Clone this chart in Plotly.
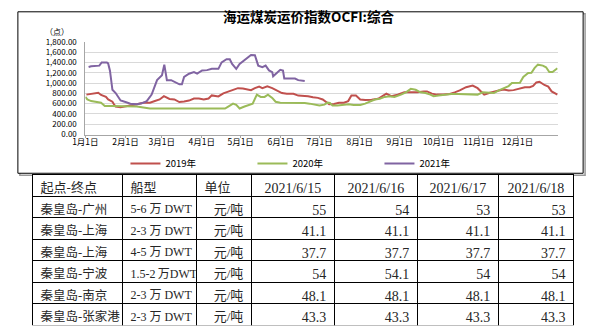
import plotly.graph_objects as go

W, H = 589, 331

# ---------------- data ----------------
month_days = [0, 31, 59, 90, 120, 151, 181, 212, 243, 273, 304, 334]
month_labels = ["1月1日", "2月1日", "3月1日", "4月1日", "5月1日", "6月1日",
                "7月1日", "8月1日", "9月1日", "10月1日", "11月1日", "12月1日"]
y_ticks = [0, 200, 400, 600, 800, 1000, 1200, 1400, 1600, 1800]

day_2019 = [0.8, 4.5, 8.3, 10, 12.1, 15.9, 17.6, 20.9, 22.1, 23.4, 27.2, 31, 34.8, 39.8,
            44.8, 49.9, 53.7, 57.4, 60.7, 63.7, 65, 68.8, 72.6, 76.3, 80.1, 83.9, 87.7,
            91.5, 95.2, 97.7, 100.3, 102.8, 106.6, 110.4, 114.1, 117.9, 121.7, 125.5,
            128, 131, 134.3, 136.8, 140.6, 144.4, 148.1, 151.9, 155.7, 160.8, 164.5,
            168.3, 172.1, 175.9, 179.7, 183.4, 185.9, 188.4, 192.2, 196, 199.8, 203.1,
            205.6, 209.1, 212.4, 216.2, 221.2, 226.2, 232.6, 236.4, 241.3, 246.4, 251.5,
            256.5, 261.5, 264, 267.8, 271.6, 276.6, 281.6, 285.4, 289.3, 294.2, 298,
            299.3, 303.1, 305.6, 308.2, 311.9, 315.7, 319.5, 323.3, 327.1, 330.9, 335.8,
            339.6, 343.4, 346, 348.5, 350.9, 354.7, 357.7, 360.3, 364.8]
val_2019 = [775, 794, 806, 810, 769, 731, 681, 637, 588, 544, 531, 545, 569, 588,
            619, 619, 650, 681, 744, 700, 690, 681, 631, 640, 660, 700, 700,
            681, 700, 760, 744, 740, 800, 837, 869, 900, 895, 869,
            860, 900, 931, 900, 935, 900, 856, 806, 794, 790, 756,
            756, 744, 725, 712, 681, 637, 588, 595, 619, 619, 650,
            756, 756, 681, 669, 675, 694, 794, 744, 775, 819, 819,
            819, 837, 837, 794, 775, 775, 787, 819, 856, 919, 944,
            950, 900, 837, 775, 806, 837, 856, 875, 856, 862, 900,
            919, 919, 944, 1012, 1025, 962, 931, 837, 775]

day_2020 = [0, 1.5, 4.5, 8.3, 12.1, 13.5, 15, 20, 27, 34.8, 39.8, 44.8, 49.9, 55, 70,
            90, 107.9, 110.4, 114.1, 116.6, 119.2, 123, 126.8, 129.3, 132.5, 135.5,
            138.5, 141.1, 144.4, 147, 150.6, 155, 160, 165.8, 169.5, 173.3, 177.1,
            180.9, 184.7, 187.2, 189, 191, 194.8, 199.8, 203.5, 207.3, 212.4, 216.2,
            220, 223.7, 227.5, 231.3, 235.1, 238.8, 243.9, 247.7, 251.5, 255.2, 259,
            262.8, 266.6, 269.1, 272.9, 277.9, 282.8, 288, 294.2, 299.3, 303.1, 306.9,
            311.9, 315.7, 319.5, 323.3, 327, 329.6, 335.8, 338.4, 342.2, 344.7, 347.2,
            349.7, 353.5, 356, 358.5, 361, 364.8]
val_2020 = [731, 681, 650, 637, 619, 590, 556, 556, 556, 550, 544, 525, 506, 506, 503,
            503, 506, 544, 600, 575, 506, 544, 575, 600, 775, 731,
            731, 775, 712, 637, 619, 619, 619, 619, 612, 600, 575,
            562, 581, 619, 612, 562, 562, 575, 587, 575, 575, 600,
            637, 681, 694, 731, 744, 731, 775, 819, 887, 869, 819,
            806, 775, 744, 756, 775, 787, 787, 787, 787, 775, 819,
            819, 806, 856, 900, 940, 1000, 1006, 1119, 1194, 1200, 1294,
            1356, 1337, 1306, 1212, 1212, 1287]

day_2021 = [2.5, 4.5, 10.8, 12.6, 16.6, 17.6, 19, 20.9, 23.4, 27.2, 31, 34.8, 39.8, 43.6,
            47.4, 51.2, 55.4, 59.2, 61, 63, 66.3, 70.1, 72.7, 74.6, 76.3, 80.1, 83.9,
            86.4, 90.2, 94, 97.7, 102.8, 105.3, 109.1, 111.6, 113.4, 116.6, 119.2, 123,
            125.5, 128, 131, 133.6, 136.8, 139.3, 141.9, 144.4, 145.1, 147.6, 150.6,
            152.7, 153.7, 158.2, 162, 164.5, 169.5]
val_2021 = [1310, 1325, 1337, 1400, 1400, 1380, 1240, 869, 806, 662, 631, 600, 588, 606,
            650, 775, 1056, 1150, 1356, 1056, 1056, 1006, 975, 975, 1119, 1181, 1212,
            1181, 1244, 1250, 1275, 1275, 1400, 1462, 1462, 1369, 1275, 1369, 1444,
            1494, 1544, 1540, 1337, 1306, 1337, 1244, 1212, 1131, 1181, 1256,
            1240, 1087, 1087, 1087, 1056, 1037]

table_header = ["起点-终点", "船型", "单位", "2021/6/15", "2021/6/16", "2021/6/17", "2021/6/18"]
routes = ["秦皇岛-广州", "秦皇岛-上海", "秦皇岛-上海", "秦皇岛-宁波", "秦皇岛-南京", "秦皇岛-张家港"]
ship_types = ["5-6 万 DWT", "2-3 万 DWT", "4-5 万 DWT", "1.5-2 万DWT", "2-3 万 DWT", "2-3 万 DWT"]
units = ["元/吨"] * 6
price_0615 = ["55", "41.1", "37.7", "54", "48.1", "43.3"]
price_0616 = ["54", "41.1", "37.7", "54.1", "48.1", "43.3"]
price_0617 = ["53", "41.1", "37.7", "54", "48.1", "43.3"]
price_0618 = ["53", "41.1", "37.7", "54", "48.1", "43.3"]

# ---------------- figure ----------------
def px_x(p):
    return p / W

def px_y(p):
    return 1 - p / H

fig = go.Figure()
series = [("2019年", day_2019, val_2019, "#C0504D"),
          ("2020年", day_2020, val_2020, "#9BBB59"),
          ("2021年", day_2021, val_2021, "#8064A2")]
for name, xs, ys, col in series:
    fig.add_trace(go.Scatter(x=xs, y=ys, mode="lines", name=name,
                             line=dict(color=col, width=2), hoverinfo="skip"))

tfont = "Liberation Serif, Noto Sans CJK SC"
ship_cells = [s.replace(" 万DWT", "\u2009万DWT").replace(" ", "\u00a0") for s in ship_types]
fig.add_trace(go.Table(
    domain=dict(x=[px_x(20), px_x(574)], y=[0, px_y(174)]),
    columnwidth=[92, 76, 56, 85, 85, 83, 77],
    header=dict(values=table_header, height=22,
                align=["left", "left", "left", "center", "center", "center", "center"],
                line=dict(color="black", width=1), fill=dict(color="white"),
                font=dict(family=tfont, size=[13, 13, 13, 14, 14, 14, 14], color="#262626")),
    cells=dict(values=[routes, ship_cells, units, price_0615, price_0616, price_0617, price_0618],
               height=21.5,
               align=["left", "left", "right", "right", "right", "right", "right"],
               line=dict(color="black", width=1), fill=dict(color="white"),
               font=dict(family=tfont, size=[12.5, 12, 13, 14, 14, 14, 14],
                         color="#262626")),
))

fig.update_layout(
    width=W, height=H,
    margin=dict(l=0, r=0, t=0, b=0),
    paper_bgcolor="white", plot_bgcolor="white",
    font=dict(family="Noto Sans CJK SC", color="#000000"),
    xaxis=dict(domain=[px_x(74), px_x(557)], range=[0, 365],
               tickmode="array", tickvals=month_days, ticktext=month_labels,
               showgrid=False, zeroline=False, showline=True, linecolor="#A6A6A6",
               linewidth=1, ticks="outside", ticklen=2, tickcolor="#A6A6A6",
               ticklabelstandoff=-3,
               tickfont=dict(size=8.5, color="#000000")),
    yaxis=dict(domain=[px_y(133), px_y(37)], range=[0, 1800],
               tickmode="array", tickvals=y_ticks, tickformat=",.2f",
               showgrid=True, gridcolor="#D9D9D9", gridwidth=1, zeroline=False,
               showline=True, linecolor="#A6A6A6", linewidth=1,
               ticklabelstandoff=6,
               tickfont=dict(size=8, color="#000000")),
    showlegend=True,
    legend=dict(orientation="h", x=px_x(115), y=px_y(163), xanchor="left", yanchor="middle",
                entrywidth=82, entrywidthmode="pixels",
                font=dict(size=9.5, color="#000000"), bgcolor="rgba(0,0,0,0)",
                itemclick=False),
)

fig.add_annotation(text="<b>海运煤炭运价指数OCFI:综合</b>", xref="paper", yref="paper",
                   x=px_x(302), y=px_y(10), showarrow=False,
                   font=dict(size=13.5, color="#000000"), xanchor="center", yanchor="middle")
fig.add_annotation(text="（点）", xref="paper", yref="paper",
                   x=px_x(45), y=px_y(26), showarrow=False,
                   font=dict(size=8, color="#000000"), xanchor="center", yanchor="middle")

# chart frame with shadow
fig.add_shape(type="rect", xref="paper", yref="paper",
              x0=px_x(7), x1=px_x(585), y0=px_y(175), y1=px_y(8),
              line=dict(color="#9A9A9A", width=1.5), layer="below")
fig.add_shape(type="rect", xref="paper", yref="paper",
              x0=px_x(5), x1=px_x(583), y0=px_y(173), y1=px_y(6),
              line=dict(color="#000000", width=1), fillcolor="white", layer="below")

fig.write_html("out.html")
